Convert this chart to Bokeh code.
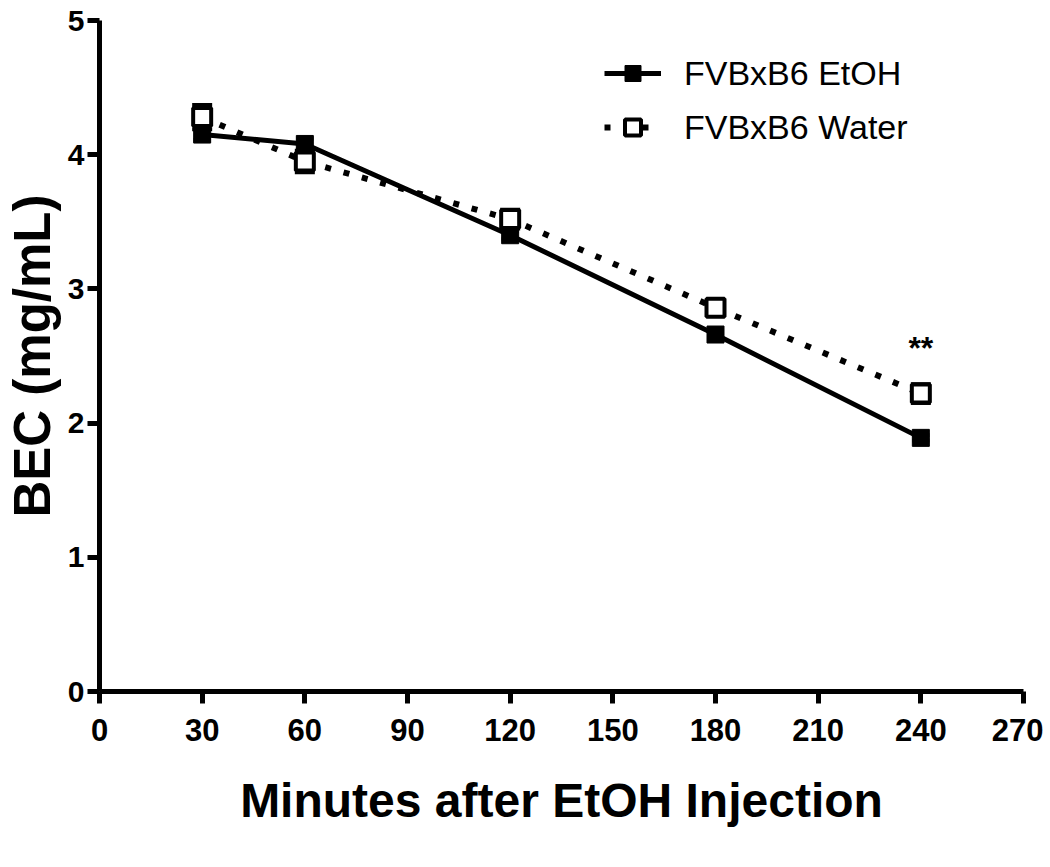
from bokeh.plotting import figure
from bokeh.models import ColumnDataSource, Whisker, TeeHead, Legend, LegendItem, FixedTicker
from bokeh.embed import file_html
from bokeh.resources import INLINE
from bokeh.core.properties import value

# ---- data ----
minutes = [30, 60, 120, 180, 240]
etoh_bec = [4.15, 4.08, 3.40, 2.66, 1.89]
etoh_sem = [0.04, 0.04, 0.03, 0.02, 0.02]
water_bec = [4.28, 3.95, 3.52, 2.86, 2.22]
water_sem = [0.09, 0.08, 0.07, 0.05, 0.07]
x_ticks = [0, 30, 60, 90, 120, 150, 180, 210, 240, 270]
y_ticks = [0, 1, 2, 3, 4, 5]
sig_x = [240]
sig_y = [2.56]
sig_text = ["**"]

FONT = "Liberation Sans"

etoh_src = ColumnDataSource(dict(
    x=minutes, y=etoh_bec,
    lo=[v - s for v, s in zip(etoh_bec, etoh_sem)],
    hi=[v + s for v, s in zip(etoh_bec, etoh_sem)],
))
water_src = ColumnDataSource(dict(
    x=minutes, y=water_bec,
    lo=[v - s for v, s in zip(water_bec, water_sem)],
    hi=[v + s for v, s in zip(water_bec, water_sem)],
))

p = figure(frame_width=924, frame_height=671, x_range=(0, 270), y_range=(0, 5),
           output_backend="svg", toolbar_location=None,
           min_border_left=90, min_border_right=20, min_border_top=20, min_border_bottom=150)
p.grid.visible = False
p.outline_line_color = None
p.background_fill_color = "white"
p.border_fill_color = "white"

for ax in (p.xaxis[0], p.yaxis[0]):
    ax.axis_line_width = 5
    ax.axis_line_color = "black"
    ax.major_tick_line_width = 5
    ax.major_tick_line_color = "black"
    ax.major_tick_out = 12
    ax.major_tick_in = 0
    ax.minor_tick_out = 0
    ax.minor_tick_in = 0
    ax.major_label_text_font = FONT
    ax.major_label_text_font_style = "bold"
    ax.major_label_text_color = "black"
    ax.axis_label_text_font = FONT
    ax.axis_label_text_font_style = "bold"
    ax.axis_label_text_color = "black"

p.xaxis.ticker = FixedTicker(ticks=x_ticks)
p.yaxis.ticker = FixedTicker(ticks=y_ticks)
p.xaxis.major_label_text_font_size = "31px"
p.yaxis.major_label_text_font_size = "30px"
p.xaxis.major_label_standoff = 15
p.yaxis.major_label_standoff = 3
p.xaxis.axis_label = "Minutes after EtOH Injection"
p.yaxis.axis_label = "BEC (mg/mL)"
p.xaxis.axis_label_text_font_size = "48px"
p.yaxis.axis_label_text_font_size = "51px"
p.xaxis.axis_label_standoff = 30
p.yaxis.axis_label_standoff = 4

# EtOH series
etoh_line = p.line("x", "y", source=etoh_src, line_color="black", line_width=5)
p.add_layout(Whisker(source=etoh_src, base="x", lower="lo", upper="hi",
                     line_color="black", line_width=4,
                     upper_head=TeeHead(size=17, line_width=4, line_color="black"),
                     lower_head=TeeHead(size=17, line_width=4, line_color="black")))
etoh_pts = p.scatter("x", "y", source=etoh_src, marker="square", size=17,
                     fill_color="black", line_color="black", line_width=1)

# Water series
water_line = p.line("x", "y", source=water_src, line_color="black", line_width=6,
                    line_dash="6 13")
p.add_layout(Whisker(source=water_src, base="x", lower="lo", upper="hi",
                     line_color="black", line_width=4,
                     upper_head=TeeHead(size=20, line_width=4, line_color="black"),
                     lower_head=TeeHead(size=20, line_width=4, line_color="black")))
water_pts = p.scatter("x", "y", source=water_src, marker="square", size=18,
                      fill_color="white", line_color="black", line_width=4)

p.text(x=sig_x, y=sig_y, text=sig_text, text_font=value(FONT), text_font_size="32px",
       text_align="center", text_baseline="middle", text_color="black", text_font_style="bold")

legend = Legend(items=[
    LegendItem(label="FVBxB6 EtOH", renderers=[etoh_line, etoh_pts]),
    LegendItem(label="FVBxB6 Water", renderers=[water_line, water_pts]),
], location=(505, 544))
legend.border_line_color = None
legend.background_fill_alpha = 0
legend.padding = 0
legend.margin = 0
legend.glyph_width = 57
legend.glyph_height = 40
legend.label_height = 40
legend.spacing = 14
legend.label_standoff = 23
legend.label_text_font = FONT
legend.label_text_font_size = "34px"
legend.label_text_color = "black"
p.add_layout(legend, "center")

open("out.html", "w").write(file_html(p, INLINE))
